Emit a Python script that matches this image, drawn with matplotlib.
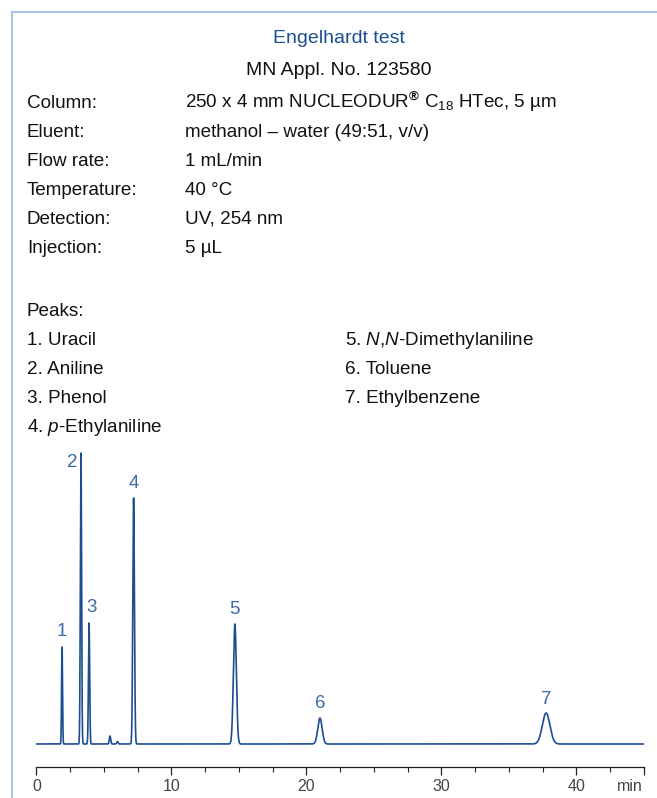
import numpy as np
import matplotlib
matplotlib.use("Agg")
import matplotlib.pyplot as plt
from matplotlib.lines import Line2D
from matplotlib.ticker import MultipleLocator

plt.rcParams['font.family'] = ['Liberation Sans', 'DejaVu Sans']
plt.rcParams['mathtext.fontset'] = 'custom'
plt.rcParams['mathtext.rm'] = 'Liberation Sans'
plt.rcParams['mathtext.it'] = 'Liberation Sans:italic'
plt.rcParams['mathtext.bf'] = 'Liberation Sans:bold'

# ---- data ----
title = "Engelhardt test"
subtitle = "MN Appl. No. 123580"
cond_labels = ["Column:", "Eluent:", "Flow rate:", "Temperature:", "Detection:", "Injection:"]
cond_values = [r"250 x 4 mm NUCLEODUR$^{\mathbf{®}}$ C$_{18}$ HTec, 5 µm",
               "methanol – water (49:51, v/v)",
               "1 mL/min",
               "40 °C",
               "UV, 254 nm",
               "5 µL"]
peak_names_left = ["1. Uracil", "2. Aniline", "3. Phenol", r"4. $p$-Ethylaniline"]
peak_names_right = [r"5. $N$,$N$-Dimethylaniline", "6. Toluene", "7. Ethylbenzene"]

peak_ids = ["1", "2", "3", "4", "5", "6", "7"]
peak_rt = [1.9, 3.3, 3.9, 7.2, 14.7, 21.0, 37.75]          # min
peak_height = [97, 291, 121, 246, 120, 26, 31]               # signal (a.u.)
peak_sigma = [0.035, 0.045, 0.045, 0.06, 0.11, 0.16, 0.28]   # min
minor_rt = [5.45, 6.0]
minor_height = [8, 2.5]
minor_sigma = [0.05, 0.05]

x_ticks_major = [0, 10, 20, 30, 40, 45]
x_tick_labels = ["0", "10", "20", "30", "40", ""]

# ---- figure ----
W, H = 657, 798
fig = plt.figure(figsize=(W / 100, H / 100), dpi=100)

def fx(px):
    return px / W

def fy(py):
    return 1 - py / H

frame_col = "#a9c3e6"
fig.add_artist(Line2D([fx(12), fx(12)], [fy(12), fy(798)], color=frame_col, lw=1.5, transform=fig.transFigure))
fig.add_artist(Line2D([fx(12), fx(657)], [fy(12), fy(12)], color=frame_col, lw=1.5, transform=fig.transFigure))

fs = 13.6
fs_title = 14.0
txt_col = "#111111"
blue_title = "#1c4f91"
fig.text(fx(339), fy(43), title, ha="center", va="baseline", fontsize=fs_title, color=blue_title)
fig.text(fx(339), fy(75), subtitle, ha="center", va="baseline", fontsize=fs_title, color=txt_col)

row_y = [108, 137, 166, 195, 224, 253]
for lab, val, y in zip(cond_labels, cond_values, row_y):
    fig.text(fx(27), fy(y), lab, ha="left", va="baseline", fontsize=fs, color=txt_col)
    fig.text(fx(185), fy(y), val, ha="left", va="baseline", fontsize=fs, color=txt_col)

fig.text(fx(27), fy(316), "Peaks:", ha="left", va="baseline", fontsize=fs, color=txt_col)
left_y = [345, 374, 403, 432]
for name, y in zip(peak_names_left, left_y):
    fig.text(fx(27), fy(y), name, ha="left", va="baseline", fontsize=fs, color=txt_col)
for name, y in zip(peak_names_right, left_y[:3]):
    fig.text(fx(345), fy(y), name, ha="left", va="baseline", fontsize=fs, color=txt_col)

# ---- chromatogram axes ----
x0_px, x45_px = 36.4, 644.0
ax_top_px, ax_bot_px = 445.0, 767.0
ax = fig.add_axes([fx(x0_px), fy(ax_bot_px), fx(x45_px - x0_px), (ax_bot_px - ax_top_px) / H])
ax.set_xlim(0, 45)
baseline_px = 744.0
# y data units = pixels above baseline
ax.set_ylim(-(ax_bot_px - baseline_px), baseline_px - ax_top_px)

t = np.linspace(0, 45, 30000)
sig = np.zeros_like(t)
for rt, h, s in zip(peak_rt, peak_height, peak_sigma):
    sig += h * np.exp(-0.5 * ((t - rt) / s) ** 2)
for rt, h, s in zip(minor_rt, minor_height, minor_sigma):
    sig += h * np.exp(-0.5 * ((t - rt) / s) ** 2)
trace_col = "#1b4d92"
ax.plot(t, sig, color=trace_col, lw=1.2, solid_joinstyle="round")

lab_col = "#3d6aa8"
label_dx = [0, -0.66, 0.22, 0, 0, 0, 0]
label_dy = [15, -9, 15, 15, 15, 14, 14]
for pid, rt, h, dx, dy in zip(peak_ids, peak_rt, peak_height, label_dx, label_dy):
    ax.text(rt + dx, h + dy, pid, ha="center", va="center", fontsize=13.5, color=lab_col)

for sp in ["top", "right", "left"]:
    ax.spines[sp].set_visible(False)
ax.spines["bottom"].set_color("#222222")
ax.spines["bottom"].set_linewidth(0.9)
ax.set_yticks([])
ax.set_xticks(x_ticks_major)
ax.set_xticklabels(x_tick_labels)
ax.xaxis.set_minor_locator(MultipleLocator(2.5))
ax.tick_params(axis="x", which="major", direction="out", length=5.5, width=0.9, color="#222222",
               labelsize=11.5, labelcolor="#444444", pad=3)
ax.tick_params(axis="x", which="minor", direction="out", length=3.5, width=0.8, color="#222222")
ax.patch.set_alpha(0)
fig.text(fx(643), fy(791), "min", ha="right", va="baseline", fontsize=11.5, color="#444444")

fig.savefig("out.png", dpi=100)
